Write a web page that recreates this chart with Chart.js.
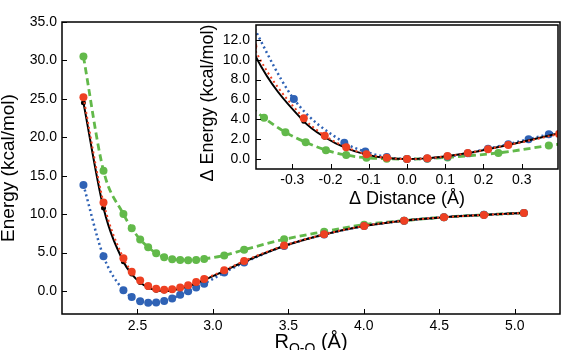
<!DOCTYPE html>
<html>
<head>
<meta charset="utf-8">
<script src="https://cdn.jsdelivr.net/npm/chart.js@4/dist/chart.umd.min.js"></script>
<style>
  body { margin: 0; background: #fff; }
  #wrap { position: relative; width: 564px; height: 350px; }
  #main { position: absolute; left: 0; top: 0; }
  #inset { position: absolute; left: 190px; top: 0; }
</style>
</head>
<body>
<div id="wrap">
  <canvas id="main" width="564" height="350"></canvas>
  <canvas id="inset" width="374" height="215"></canvas>
</div>
<script>
// O-O distances (Å)
let distancias = [2.142, 2.275, 2.407, 2.462, 2.518, 2.571, 2.624, 2.677, 2.730, 2.783, 2.836, 2.889, 2.942,
                  3.075, 3.207, 3.472, 3.737, 4.002, 4.267, 4.531, 4.796, 5.061];

// energies (kcal/mol)
let energiaNegra = [24.5, 10.8, 3.8, 2.2, 1.1, 0.45, 0.1, 0.0, 0.07, 0.3, 0.6, 1.0, 1.42,
                    2.6, 3.8, 5.85, 7.35, 8.45, 9.15, 9.6, 9.9, 10.15];
let energiaRoja = [25.2, 11.5, 4.25, 2.5, 1.35, 0.63, 0.28, 0.15, 0.22, 0.45, 0.75, 1.15, 1.56,
                   2.68, 3.9, 5.9, 7.37, 8.46, 9.15, 9.59, 9.89, 10.15];
let energiaAzul = [13.8, 4.5, 0.1, -0.8, -1.35, -1.55, -1.5, -1.3, -0.97, -0.5, -0.05, 0.45, 0.95,
                   2.4, 3.7, 5.85, 7.35, 8.45, 9.15, 9.6, 9.9, 10.15];
let energiaVerde = [30.5, 15.65, 10.0, 8.15, 6.7, 5.7, 4.9, 4.4, 4.13, 4.03, 4.0, 4.04, 4.17,
                    4.62, 5.36, 6.72, 7.72, 8.63, 9.15, 9.6, 9.9, 10.15];

let ticksX = [2.5, 3.0, 3.5, 4.0, 4.5, 5.0];
let ticksY = [0, 5, 10, 15, 20, 25, 30, 35];
let ticksXInset = [-0.3, -0.2, -0.1, 0.0, 0.1, 0.2, 0.3];
let ticksYInset = [0, 2, 4, 6, 8, 10, 12];

let tituloY = 'Energy (kcal/mol)';
let tituloX = ['R', 'O-O', ' (Å)'];
let tituloYInset = 'Δ Energy (kcal/mol)';
let tituloXInset = 'Δ Distance (Å)';

const FUENTE = '"Liberation Sans", Arial, Helvetica, sans-serif';
Chart.defaults.font.family = FUENTE;
Chart.defaults.color = '#000';

const ROJO = '#ee4022', AZUL = '#2f62b5', VERDE = '#62b94a', NEGRO = '#000000';

// each curve relative to its own minimum
function relativo(ys) {
    let k = 0;
    ys.forEach((v, i) => { if (v < ys[k]) k = i; });
    return ys.map((v, i) => ({x: distancias[i] - distancias[k], y: v - ys[k]}));
}
function puntos(ys) {
    return ys.map((v, i) => ({x: distancias[i], y: v}));
}

function series(fn) {
    return [
        { label: 'rojo', data: fn(energiaRoja), borderColor: ROJO, backgroundColor: ROJO,
          borderWidth: 2, borderDash: [2, 3], pointRadius: 4 },
        { label: 'negro', data: fn(energiaNegra), borderColor: NEGRO, backgroundColor: NEGRO,
          borderWidth: 2, pointRadius: 2.5 },
        { label: 'azul', data: fn(energiaAzul), borderColor: AZUL, backgroundColor: AZUL,
          borderWidth: 2.5, borderDash: [2, 3], pointRadius: 4 },
        { label: 'verde', data: fn(energiaVerde), borderColor: VERDE, backgroundColor: VERDE,
          borderWidth: 2.8, borderDash: [7, 4], pointRadius: 4 }
    ].map(d => Object.assign(d, { pointBorderWidth: 0, pointHoverRadius: d.pointRadius,
                                  cubicInterpolationMode: 'monotone', fill: false }));
}

// box around the plot area and inward ticks
const marco = {
    id: 'marco',
    beforeDatasetsDraw(chart, args, opts) {
        if (!opts.fondo) return;
        const a = chart.chartArea;
        chart.ctx.save();
        chart.ctx.fillStyle = '#fff';
        chart.ctx.fillRect(a.left, a.top, a.width, a.height);
        chart.ctx.restore();
    },
    afterDatasetsDraw(chart, args, opts) {
        const {ctx, chartArea: a, scales: {x, y}} = chart;
        ctx.save();
        ctx.strokeStyle = '#000';
        ctx.lineWidth = opts.ancho;
        ctx.strokeRect(a.left, a.top, a.width, a.height);
        ctx.beginPath();
        x.ticks.forEach(t => {
            const px = Math.round(x.getPixelForValue(t.value)) + 0.5;
            ctx.moveTo(px, a.bottom); ctx.lineTo(px, a.bottom - opts.tick);
        });
        y.ticks.forEach(t => {
            const py = Math.round(y.getPixelForValue(t.value)) + 0.5;
            ctx.moveTo(a.left, py); ctx.lineTo(a.left + opts.tick, py);
        });
        ctx.lineWidth = 1;
        ctx.stroke();
        ctx.restore();
    }
};

function textoVertical(ctx, texto, cx, cy, px) {
    ctx.save();
    ctx.translate(cx, cy);
    ctx.rotate(-Math.PI / 2);
    ctx.font = px + 'px ' + FUENTE;
    ctx.textAlign = 'center';
    ctx.textBaseline = 'middle';
    ctx.fillStyle = '#000';
    ctx.fillText(texto, 0, 0);
    ctx.restore();
}

const titulosMain = {
    id: 'titulosMain',
    afterDraw(chart) {
        const {ctx, chartArea: a} = chart;
        textoVertical(ctx, tituloY, 9, (a.top + a.bottom) / 2, 19);
        ctx.save();
        ctx.fillStyle = '#000';
        ctx.textBaseline = 'alphabetic';
        const grande = '20px ' + FUENTE, chica = '14px ' + FUENTE;
        ctx.font = grande;
        const w1 = ctx.measureText(tituloX[0]).width, w3 = ctx.measureText(tituloX[2]).width;
        ctx.font = chica;
        const w2 = ctx.measureText(tituloX[1]).width;
        let x0 = (a.left + a.right) / 2 - (w1 + w2 + w3) / 2;
        const base = 348;
        ctx.font = grande; ctx.fillText(tituloX[0], x0, base);
        ctx.font = chica; ctx.fillText(tituloX[1], x0 + w1, base + 5);
        ctx.font = grande; ctx.fillText(tituloX[2], x0 + w1 + w2, base);
        ctx.restore();
    }
};

const titulosInset = {
    id: 'titulosInset',
    afterDraw(chart) {
        const {ctx, chartArea: a} = chart;
        textoVertical(ctx, tituloYInset, 18, 103, 18);
        ctx.save();
        ctx.font = '18px ' + FUENTE;
        ctx.fillStyle = '#000';
        ctx.textAlign = 'center';
        ctx.textBaseline = 'alphabetic';
        ctx.fillText(tituloXInset, (a.left + a.right) / 2, 204);
        ctx.restore();
    }
};

function escala(min, max, ticks, tamano, padding, lado) {
    return {
        type: 'linear', min: min, max: max,
        grid: { display: false, drawTicks: false },
        border: { display: false },
        ticks: { font: { size: 14 }, padding: padding, maxRotation: 0, autoSkip: false,
                 callback: v => Number(v).toFixed(1) },
        afterBuildTicks: s => { s.ticks = ticks.map(v => ({ value: v })); },
        afterFit: s => { if (lado === 'x') s.height = tamano; else s.width = tamano; }
    };
}

let miGrafica = new Chart(document.getElementById('main'), {
    type: 'line',
    data: { datasets: series(puntos) },
    options: {
        responsive: false, animation: false,
        layout: { padding: { top: 22, right: 4, left: 0, bottom: 0 } },
        plugins: { legend: { display: false }, tooltip: { enabled: false },
                   marco: { ancho: 1.5, tick: 5 } },
        scales: {
            x: escala(2.0, 5.3, ticksX, 36, 4, 'x'),
            y: escala(-3, 35, ticksY, 62, 5, 'y')
        }
    },
    plugins: [marco, titulosMain]
});

let graficaInset = new Chart(document.getElementById('inset'), {
    type: 'line',
    data: { datasets: series(relativo) },
    options: {
        responsive: false, animation: false,
        layout: { padding: { top: 25, right: 6, left: 0, bottom: 0 } },
        plugins: { legend: { display: false }, tooltip: { enabled: false },
                   marco: { ancho: 1.5, tick: 5, fondo: true } },
        scales: {
            x: escala(-0.395, 0.395, ticksXInset, 46, 3, 'x'),
            y: escala(-1, 13.5, ticksYInset, 66, 6, 'y')
        }
    },
    plugins: [marco, titulosInset]
});
</script>
</body>
</html>
